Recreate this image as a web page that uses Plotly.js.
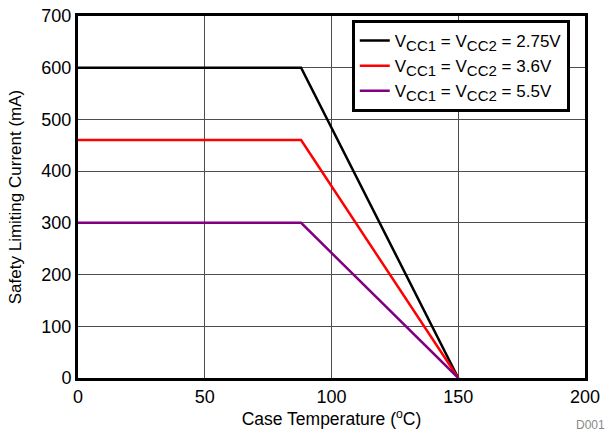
<!DOCTYPE html>
<html>
<head>
<meta charset="utf-8">
<script src="https://cdn.plot.ly/plotly-3.0.1.min.js"></script>
<style>
  html, body { margin: 0; padding: 0; background: #fff; }
  #chart { width: 616px; height: 435px; }
</style>
</head>
<body>
<div id="chart"></div>
<script>
// Safety limiting current vs case temperature, one curve per supply voltage
const caseTemp = [0, 88, 150];
const current275 = [600, 600, 0];
const current36 = [460, 460, 0];
const current55 = [300, 300, 0];
const supplyVoltages = ['2.75V', '3.6V', '5.5V'];
const seriesColors = ['#000000', '#ff0000', '#800080'];
const xTicks = [0, 50, 100, 150, 200];
const yTicks = [0, 100, 200, 300, 400, 500, 600, 700];

const font = 'Arial, "Liberation Sans", Helvetica, sans-serif';
const ys = [current275, current36, current55];
const sub = s => '<sub><span style="font-size:15px">' + s + '</span></sub>';

const traces = ys.map((y, i) => ({
  x: caseTemp,
  y: y,
  mode: 'lines',
  name: 'V' + sub('CC1') + ' = V' + sub('CC2') + ' = ' + supplyVoltages[i],
  line: { color: seriesColors[i], width: 2.5 },
  hoverinfo: 'skip'
}));

const layout = {
  width: 616,
  height: 435,
  margin: { l: 78, r: 31, t: 16, b: 57 },
  paper_bgcolor: '#ffffff',
  plot_bgcolor: '#ffffff',
  font: { family: font, size: 18, color: '#000' },
  showlegend: true,
  legend: {
    x: 0.54, y: 0.989, xanchor: 'left', yanchor: 'top',
    bgcolor: '#ffffff',
    bordercolor: '#000000',
    borderwidth: 3,
    font: { family: font, size: 17, color: '#000' },
    itemwidth: 30,
    tracegroupgap: 0
  },
  xaxis: {
    range: [0, 200],
    tickvals: xTicks,
    ticktext: xTicks.map(String),
    showgrid: true,
    gridcolor: '#4d4d4d',
    gridwidth: 1,
    zeroline: false,
    showline: true,
    linecolor: '#000',
    linewidth: 3,
    mirror: true,
    ticks: '',
    tickfont: { family: font, size: 18, color: '#000' },
    title: { text: 'Case Temperature (<sup>o</sup>C)', font: { family: font, size: 17.5, color: '#000' }, standoff: 0 }
  },
  yaxis: {
    range: [0, 700],
    tickvals: yTicks,
    ticktext: yTicks.map(String),
    showgrid: true,
    gridcolor: '#4d4d4d',
    gridwidth: 1,
    zeroline: false,
    showline: true,
    linecolor: '#000',
    linewidth: 3,
    mirror: true,
    ticks: '',
    tickfont: { family: font, size: 18, color: '#000' },
    title: { text: 'Safety Limiting Current (mA)', font: { family: font, size: 17, color: '#000' }, standoff: 16 }
  },
  annotations: [{
    text: 'D001',
    xref: 'paper', yref: 'paper',
    x: 1.043, y: -0.13,
    xanchor: 'right', yanchor: 'middle',
    showarrow: false,
    font: { family: font, size: 12, color: '#888888' }
  }]
};

Plotly.newPlot('chart', traces, layout, { staticPlot: true, displayModeBar: false });
</script>
</body>
</html>
